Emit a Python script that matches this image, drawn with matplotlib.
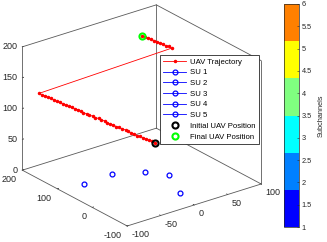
import numpy as np
import matplotlib
matplotlib.use('Agg')
import matplotlib.pyplot as plt
from matplotlib.colors import ListedColormap, Normalize
from matplotlib.cm import ScalarMappable
from matplotlib.ticker import NullFormatter
from mpl_toolkits.mplot3d import proj3d

plt.rcParams['font.family'] = ['Liberation Sans', 'DejaVu Sans']
plt.rcParams['axes.unicode_minus'] = False

# ---------------- data ----------------
uav_x = [73, 69, 64, 60, 55, 51, 46, 42, 37, 33, 29, 24, 20, 15, 11, 6, 2, -2, -7, -11,
         -16, -20, -25, -29, -34, -38, -42, -47, -51, -56, -60, -65, -69, -74, -78, -82,
         -87, -91, -96, -100,
         98, 94, 89, 85, 80, 76, 72, 67, 63, 58, 54]
uav_y = [152, 152, 152, 152, 152, 152, 152, 152, 152, 152, 152, 152, 152, 152, 152, 152,
         152, 152, 152, 152, 152, 152, 152, 152, 152, 152, 152, 152, 152, 152, 152, 152,
         152, 152, 152, 152, 152, 152, 152, 152,
         152, 152, 152, 152, 152, 152, 152, 152, 152, 152, 152]
uav_z = [0, 4, 7, 11, 14, 18, 21, 25, 28, 32, 36, 39, 43, 46, 50, 53, 57, 61, 64, 68,
         71, 75, 78, 82, 85, 89, 93, 96, 100, 103, 107, 110, 114, 117, 121, 125,
         128, 132, 135, 139,
         145, 149, 152, 156, 159, 163, 166, 170, 173, 177, 180]

su_names = ['SU 1', 'SU 2', 'SU 3', 'SU 4', 'SU 5']
su_x = [-67, -23, 12, 29, 8]
su_y = [88, 92, 63, 28, -45]
su_z = [0, 0, 0, 0, 0]
su_subchannel = [1, 1, 1, 1, 1]

x_lim = (-100, 100)
y_lim = (-100, 200)
z_lim = (0, 200)
x_ticks = [-100, -50, 0, 50, 100]
y_ticks = [-100, 0, 100, 200]
z_ticks = [0, 50, 100, 150, 200]

subchannel_colors = [(0, 0, 1), (0, 0.5, 1), (0, 1, 1), (0.5, 1, 0.5), (1, 1, 0), (1, 0.5, 0)]
cbar_range = (1, 6)
cbar_ticks = [1, 1.5, 2, 2.5, 3, 3.5, 4, 4.5, 5, 5.5, 6]

# ---------------- figure ----------------
W, H = 327, 242
fig = plt.figure(figsize=(W / 100, H / 100), dpi=100)
ax = fig.add_axes([0, 0, 1, 1], projection='3d', proj_type='ortho', computed_zorder=False)
ax.set_xlim(*x_lim)
ax.set_ylim(*y_lim)
ax.set_zlim(*z_lim)
ax.view_init(elev=24.1, azim=-127.5)
aspect = (1.0, 1.02, 0.80)
zoom = 1.0
ax.set_box_aspect(aspect, zoom=zoom)
ax.patch.set_alpha(0)
ax.grid(False)

edge_c = '0.35'
for axis in (ax.xaxis, ax.yaxis, ax.zaxis):
    axis.pane.fill = False
    axis.pane.set_edgecolor('none')
    axis.line.set_visible(False)
    axis._axinfo['tick']['inward_factor'] = 0.0
    axis._axinfo['tick']['outward_factor'] = 0.12
    axis._axinfo['tick']['linewidth'] = {True: 0.5, False: 0.5}
    axis._axinfo['tick']['color'] = edge_c
    axis.set_major_formatter(NullFormatter())
ax.set_xticks(x_ticks)
ax.set_yticks(y_ticks)
ax.set_zticks(z_ticks)

# back box edges (MATLAB BoxStyle 'back')
x0, x1 = x_lim
y0, y1 = y_lim
z0, z1 = z_lim
edges = [
    ((x0, x1), (y0, y0), (z0, z0)),
    ((x0, x0), (y0, y1), (z0, z0)),
    ((x1, x1), (y0, y1), (z0, z0)),
    ((x0, x1), (y1, y1), (z0, z0)),
    ((x0, x0), (y1, y1), (z0, z1)),
    ((x1, x1), (y1, y1), (z0, z1)),
    ((x0, x1), (y1, y1), (z1, z1)),
    ((x1, x1), (y0, y0), (z0, z1)),
    ((x1, x1), (y0, y1), (z1, z1)),
]
for ex, ey, ez in edges:
    ax.plot(ex, ey, ez, color=edge_c, lw=0.6, zorder=1, clip_on=False)

# UAV trajectory
traj, = ax.plot(uav_x, uav_y, uav_z, '-', color='red', lw=0.6, marker='.', ms=3.0,
                zorder=3, clip_on=False, label='UAV Trajectory')

# SUs
su_handles = []
for name, sx, sy, sz, sc in zip(su_names, su_x, su_y, su_z, su_subchannel):
    col = subchannel_colors[sc - 1]
    h, = ax.plot([sx], [sy], [sz], '-o', color=col, lw=0.6, ms=3.5, mew=0.9,
                 mfc='none', zorder=3, clip_on=False, label=name)
    su_handles.append(h)

h_init, = ax.plot([uav_x[0]], [uav_y[0]], [uav_z[0]], 'o', color='black', ms=4.4, mew=1.5,
                  mfc='none', lw=0, zorder=5, clip_on=False, label='Initial UAV Position')
h_final, = ax.plot([uav_x[-1]], [uav_y[-1]], [uav_z[-1]], 'o', color=(0, 1, 0), ms=4.4, mew=1.5,
                   mfc='none', lw=0, zorder=5, clip_on=False, label='Final UAV Position')

# ---------------- fit the box to target pixel layout ----------------
target = {'F': (127, 226), 'L': (22, 170), 'R': (261, 184), 'T': (157, 5)}
corner3d = {'F': (x0, y0, z0), 'L': (x0, y1, z0), 'R': (x1, y0, z0), 'T': (x1, y1, z1)}


def to_px(cx, cy, cz):
    M = ax.get_proj()
    xs, ys, _ = proj3d.proj_transform(np.array([cx]), np.array([cy]), np.array([cz]), M)
    p = ax.transData.transform((xs[0], ys[0]))
    return p[0], H - p[1]


def corners_px():
    return {k: to_px(*v) for k, v in corner3d.items()}


for _ in range(2):
    fig.canvas.draw()
    c = corners_px()
    w_cur = c['R'][0] - c['L'][0]
    h_cur = c['F'][1] - c['T'][1]
    k = 0.5 * ((target['R'][0] - target['L'][0]) / w_cur + (target['F'][1] - target['T'][1]) / h_cur)
    zoom *= k
    ax.set_box_aspect(aspect, zoom=zoom)
    fig.canvas.draw()
    c = corners_px()
    du = np.mean([target[q][0] - c[q][0] for q in target])
    dv = np.mean([target[q][1] - c[q][1] for q in target])
    pos = ax.get_position(original=True)
    ax.set_position([pos.x0 + du / W, pos.y0 - dv / H, pos.width, pos.height])

fig.canvas.draw()

# ---------------- tick labels (MATLAB-style placement) ----------------
tick_kw = dict(fontsize=6.5, color='0.15')
for t in x_ticks:
    u, v = to_px(t, y0, z0)
    fig.text((u + 4) / W, 1 - (v + 4.5) / H, f'{t:g}', ha='left', va='top', **tick_kw)
for t in y_ticks:
    u, v = to_px(x0, t, z0)
    fig.text((u - 6) / W, 1 - (v + 5) / H, f'{t:g}', ha='right', va='top', **tick_kw)
for t in z_ticks:
    u, v = to_px(x0, y1, t)
    fig.text((u - 5) / W, 1 - v / H, f'{t:g}', ha='right', va='center', **tick_kw)

# ---------------- legend ----------------
handles = [traj] + su_handles + [h_init, h_final]
leg = fig.legend(handles, [h.get_label() for h in handles], loc='upper left',
                 bbox_to_anchor=(160 / W, 1 - 55 / H), borderaxespad=0, frameon=True,
                 fancybox=False, edgecolor='0.15', framealpha=1, fontsize=5.6,
                 handlelength=3.0, handletextpad=0.5, labelspacing=0.42, borderpad=0.4,
                 numpoints=1)
leg.get_frame().set_linewidth(0.6)

# ---------------- colorbar ----------------
cax = fig.add_axes([284 / W, 1 - 227 / H, 15 / W, 223 / H])
sm = ScalarMappable(norm=Normalize(*cbar_range), cmap=ListedColormap(subchannel_colors))
cb = fig.colorbar(sm, cax=cax, ticks=cbar_ticks, format='%g')
cb.outline.set_linewidth(0.5)
cb.outline.set_edgecolor('0.15')
cb.ax.tick_params(labelsize=5.3, length=1.5, width=0.4, direction='in', pad=2, colors='0.15')
cb.set_label('Subchannels', fontsize=5.3, color='0.15', labelpad=4)

fig.savefig('out.png', dpi=100)
